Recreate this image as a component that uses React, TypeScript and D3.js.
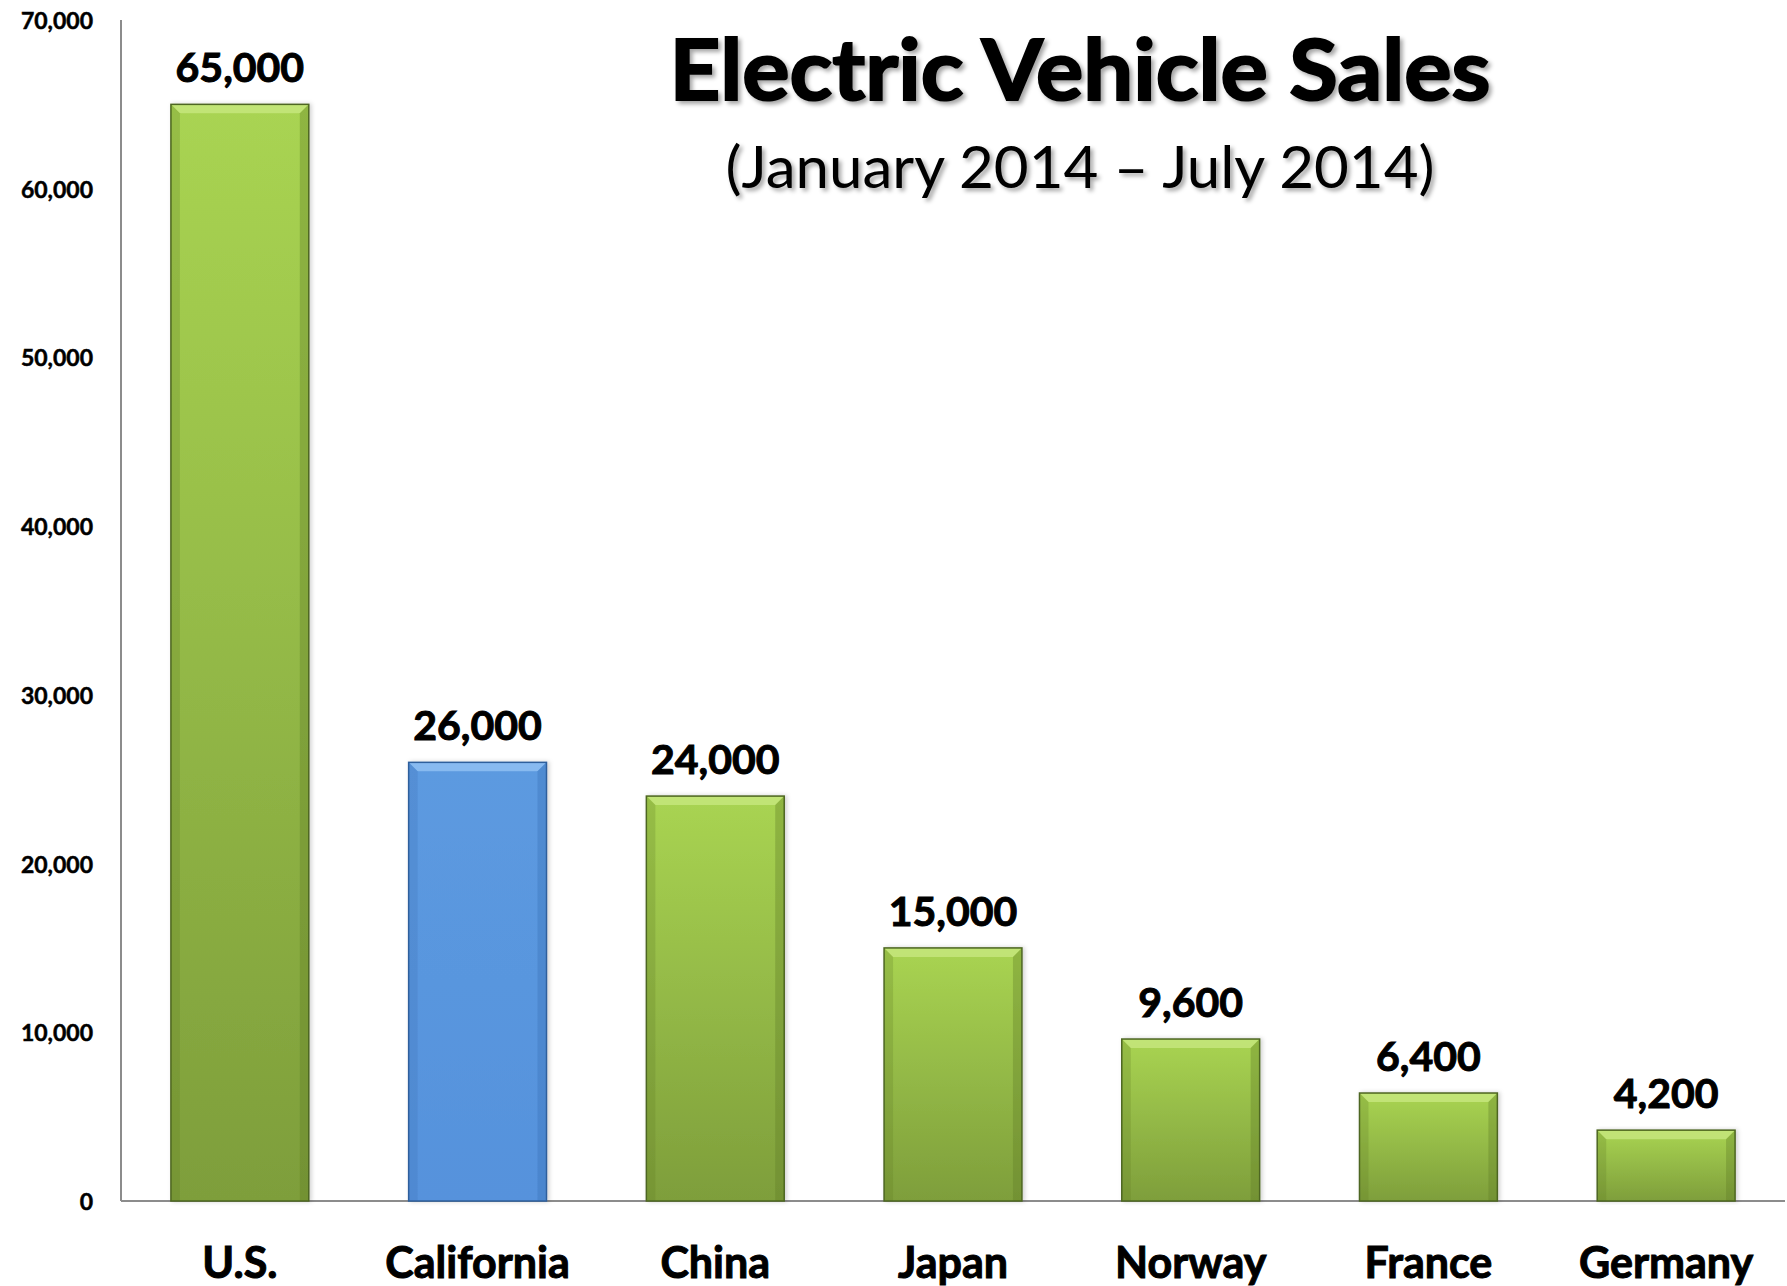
import React from "react";
import * as d3 from "d3";

const categories = ["U.S.", "California", "China", "Japan", "Norway", "France", "Germany"];
const sales = [65000, 26000, 24000, 15000, 9600, 6400, 4200];
const highlighted = ["California"];
const yTicks = [0, 10000, 20000, 30000, 40000, 50000, 60000, 70000];
const titleText = "Electric Vehicle Sales";
const subtitleText = "(January 2014 \u2013 July 2014)";

const W = 1787;
const H = 1286;
const FONT = "Lato, 'Open Sans', 'Liberation Sans', sans-serif";

export default function App() {
  const x = d3
    .scaleBand<string>()
    .domain(categories)
    .range([121, 1785])
    .paddingInner(0.42)
    .paddingOuter(0.21);
  const y = d3.scaleLinear().domain([0, 70000]).range([1201, 20]);
  const fmt = d3.format(",");
  const bw = x.bandwidth();
  const bev = 9;

  return (
    <svg
      width={W}
      height={H}
      style={{ position: "absolute", left: 0, top: 0, background: "#fff" }}
    >
      <defs>
        <linearGradient id="gGreen" x1="0" y1="0" x2="0" y2="1">
          <stop offset="0" stopColor="#a9d452" />
          <stop offset="1" stopColor="#7e9e3b" />
        </linearGradient>
        <linearGradient id="gBlue" x1="0" y1="0" x2="0" y2="1">
          <stop offset="0" stopColor="#5c9ae0" />
          <stop offset="1" stopColor="#5692dc" />
        </linearGradient>
        <filter id="shadow" x="-5%" y="-5%" width="110%" height="120%">
          <feDropShadow dx="3" dy="3" stdDeviation="2" floodColor="#000" floodOpacity="0.35" />
        </filter>
        <filter id="barShadow" x="-10%" y="-5%" width="120%" height="110%">
          <feDropShadow dx="2" dy="0" stdDeviation="2" floodColor="#000" floodOpacity="0.18" />
        </filter>
      </defs>

      {/* axes */}
      <line x1={121} x2={121} y1={y(70000)} y2={y(0)} stroke="#8c8c8c" strokeWidth={2} />
      <line x1={121} x2={1785} y1={y(0)} y2={y(0)} stroke="#8c8c8c" strokeWidth={2} />

      {yTicks.map((t) => (
        <text
          key={t}
          x={93}
          y={y(t)}
          textAnchor="end"
          dominantBaseline="central"
          fontFamily={FONT}
          fontWeight={700}
          fontSize={23}
          fill="#000"
          stroke="#000"
          strokeWidth={0.5}
        >
          {fmt(t)}
        </text>
      ))}

      {/* bars */}
      {categories.map((c, i) => {
        const x0 = x(c)!;
        const y0 = y(sales[i]);
        const y1 = y(0);
        const blue = highlighted.includes(c);
        const light = blue ? "#8fc0f2" : "#c6e67c";
        const dark = blue ? "#3a70b5" : "#5f7c25";
        const edge = blue ? "#2f5f9c" : "#4d6620";
        return (
          <g key={c}>
            <g filter="url(#barShadow)">
              <rect x={x0} y={y0} width={bw} height={y1 - y0} fill={blue ? "url(#gBlue)" : "url(#gGreen)"} />
              <polygon
                points={`${x0},${y0} ${x0 + bw},${y0} ${x0 + bw - bev},${y0 + bev} ${x0 + bev},${y0 + bev}`}
                fill={light}
                opacity={0.85}
              />
              <polygon
                points={`${x0},${y0} ${x0 + bev},${y0 + bev} ${x0 + bev},${y1} ${x0},${y1}`}
                fill={dark}
                opacity={0.25}
              />
              <polygon
                points={`${x0 + bw},${y0} ${x0 + bw - bev},${y0 + bev} ${x0 + bw - bev},${y1} ${x0 + bw},${y1}`}
                fill={dark}
                opacity={0.35}
              />
              <rect
                x={x0}
                y={y0}
                width={bw}
                height={y1 - y0}
                fill="none"
                stroke={edge}
                strokeWidth={1.5}
              />
            </g>
            <text
              x={x0 + bw / 2}
              y={y0 - 22}
              textAnchor="middle"
              fontFamily={FONT}
              fontWeight={700}
              fontSize={41}
              fill="#000"
              stroke="#000"
              strokeWidth={1}
            >
              {fmt(sales[i])}
            </text>
            <text
              x={x0 + bw / 2}
              y={1278}
              textAnchor="middle"
              fontFamily={FONT}
              fontWeight={700}
              fontSize={43}
              fill="#000"
              stroke="#000"
              strokeWidth={1}
            >
              {c}
            </text>
          </g>
        );
      })}

      {/* title */}
      <text
        x={1080}
        y={100}
        textAnchor="middle"
        fontFamily={FONT}
        fontWeight={700}
        fontSize={84}
        textLength={821}
        lengthAdjust="spacingAndGlyphs"
        fill="#000"
        stroke="#000"
        strokeWidth={2}
        filter="url(#shadow)"
      >
        {titleText}
      </text>
      <text
        x={1080}
        y={188}
        textAnchor="middle"
        fontFamily={FONT}
        fontWeight={400}
        fontSize={58}
        textLength={709}
        lengthAdjust="spacingAndGlyphs"
        fill="#000"
        filter="url(#shadow)"
      >
        {subtitleText}
      </text>
    </svg>
  );
}
